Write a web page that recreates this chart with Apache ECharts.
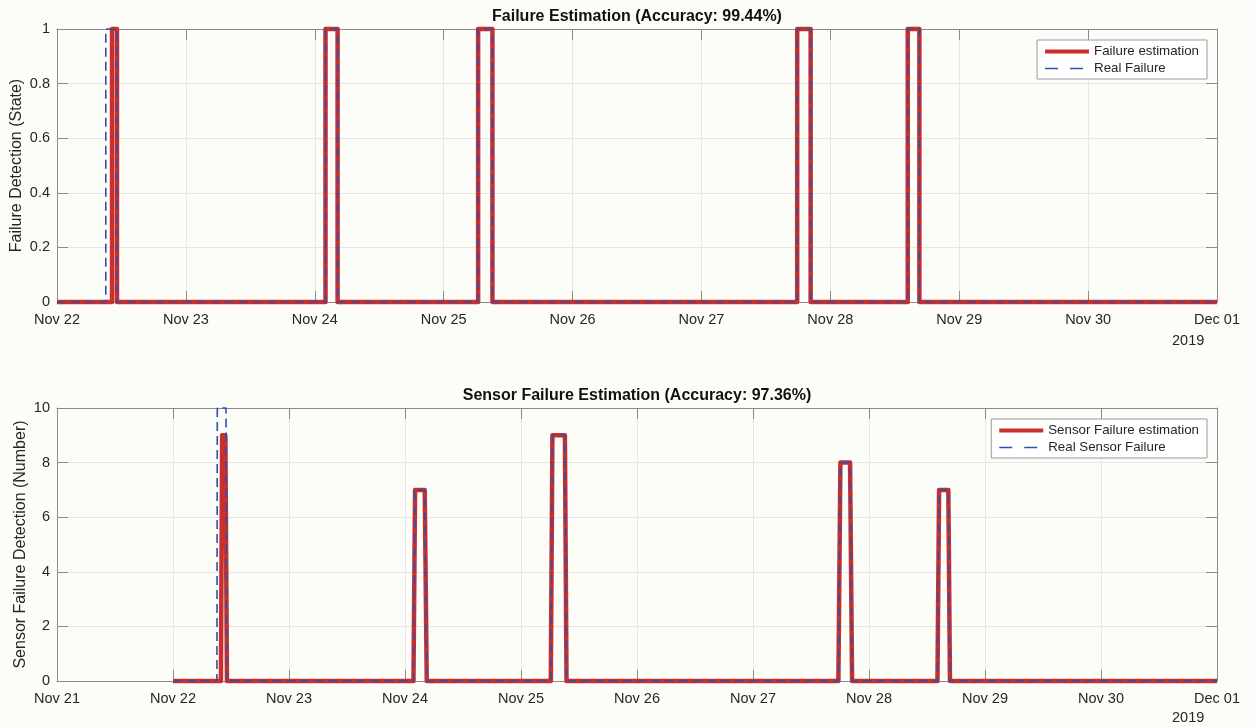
<!DOCTYPE html>
<html>
<head>
<meta charset="utf-8">
<title>Failure Estimation</title>
<script src="https://cdn.jsdelivr.net/npm/echarts@6/dist/echarts.min.js"></script>
<style>
  html, body { margin: 0; padding: 0; background: #fcfcf8; }
  #chart { width: 1256px; height: 727px; }
</style>
</head>
<body>
<div id="chart"></div>
<script>
// ---- data -------------------------------------------------------------
const monthNames = ['Jan','Feb','Mar','Apr','May','Jun','Jul','Aug','Sep','Oct','Nov','Dec'];
const yearLabel = '2019';

// Failure state windows (state = 1 between start and end), UTC time
const stateRange = ['2019-11-22 00:00', '2019-12-01 00:00'];
const stateEstimatedWindows = [
  ['2019-11-22 10:15', '2019-11-22 11:10'],
  ['2019-11-24 02:00', '2019-11-24 04:15'],
  ['2019-11-25 06:25', '2019-11-25 09:05'],
  ['2019-11-27 17:50', '2019-11-27 20:20'],
  ['2019-11-28 14:25', '2019-11-28 16:35']
];
const stateRealWindows = [
  ['2019-11-22 09:05', '2019-11-22 11:10'],
  ['2019-11-24 02:00', '2019-11-24 04:15'],
  ['2019-11-25 06:25', '2019-11-25 09:05'],
  ['2019-11-27 17:50', '2019-11-27 20:20'],
  ['2019-11-28 14:25', '2019-11-28 16:35']
];

// Number of failed sensors over time
const sensorRange = ['2019-11-21 00:00', '2019-12-01 00:00'];
const sensorEstimated = [
  ['2019-11-22 00:00', 0],
  ['2019-11-22 09:55', 0], ['2019-11-22 10:10', 9], ['2019-11-22 10:50', 9], ['2019-11-22 11:10', 0],
  ['2019-11-24 01:45', 0], ['2019-11-24 02:05', 7], ['2019-11-24 04:05', 7], ['2019-11-24 04:30', 0],
  ['2019-11-25 06:10', 0], ['2019-11-25 06:30', 9], ['2019-11-25 09:05', 9], ['2019-11-25 09:25', 0],
  ['2019-11-27 17:40', 0], ['2019-11-27 18:05', 8], ['2019-11-27 20:05', 8], ['2019-11-27 20:30', 0],
  ['2019-11-28 14:10', 0], ['2019-11-28 14:30', 7], ['2019-11-28 16:25', 7], ['2019-11-28 16:45', 0],
  ['2019-12-01 00:00', 0]
];
const sensorReal = [
  ['2019-11-22 00:00', 0],
  ['2019-11-22 09:05', 0], ['2019-11-22 09:10', 10], ['2019-11-22 10:58', 10], ['2019-11-22 11:05', 0],
  ['2019-11-24 01:45', 0], ['2019-11-24 02:05', 7], ['2019-11-24 04:05', 7], ['2019-11-24 04:30', 0],
  ['2019-11-25 06:10', 0], ['2019-11-25 06:30', 9], ['2019-11-25 09:05', 9], ['2019-11-25 09:25', 0],
  ['2019-11-27 17:40', 0], ['2019-11-27 18:05', 8], ['2019-11-27 20:05', 8], ['2019-11-27 20:30', 0],
  ['2019-11-28 14:10', 0], ['2019-11-28 14:30', 7], ['2019-11-28 16:25', 7], ['2019-11-28 16:45', 0],
  ['2019-12-01 00:00', 0]
];

// ---- helpers ------------------------------------------------------------
const DAY = 86400000;
const t = s => Date.parse(s.replace(' ', 'T') + ':00Z');
const dayLabel = v => {
  const d = new Date(v);
  return monthNames[d.getUTCMonth()] + ' ' + String(d.getUTCDate()).padStart(2, '0');
};
function stepPoints(range, windows) {
  const pts = [[t(range[0]), 0]];
  windows.forEach(([a, b]) => {
    pts.push([t(a), 0], [t(a), 1], [t(b), 1], [t(b), 0]);
  });
  pts.push([t(range[1]), 0]);
  return pts;
}
const toPoints = arr => arr.map(([s, v]) => [t(s), v]);

// ---- styling ------------------------------------------------------------
const FONT = '"Liberation Sans", Arial, Helvetica, sans-serif';
const AXIS_COLOR = '#8a8a8a';
const GRID_COLOR = '#e6e6e6';
const TEXT_COLOR = '#262626';
const RED = '#c9302c';
const BLUE = '#2f4fae';

function bottomX(gridIndex, range) {
  return {
    type: 'value', gridIndex, position: 'bottom',
    min: t(range[0]), max: t(range[1]), interval: DAY,
    axisLine: { show: true, onZero: false, lineStyle: { color: AXIS_COLOR, width: 1 } },
    axisTick: { show: true, inside: true, length: 11, lineStyle: { color: AXIS_COLOR } },
    axisLabel: { show: true, formatter: dayLabel, color: TEXT_COLOR, fontFamily: FONT, fontSize: 14.5, margin: 10 },
    splitLine: { show: true, lineStyle: { color: GRID_COLOR, width: 1 } }
  };
}
function topX(gridIndex, range) {
  return {
    type: 'value', gridIndex, position: 'top',
    min: t(range[0]), max: t(range[1]), interval: DAY,
    axisLine: { show: true, onZero: false, lineStyle: { color: AXIS_COLOR, width: 1 } },
    axisTick: { show: true, inside: true, length: 11, lineStyle: { color: AXIS_COLOR } },
    axisLabel: { show: false },
    splitLine: { show: false }
  };
}
function leftY(gridIndex, max, interval, name, nameGap) {
  return {
    type: 'value', gridIndex, position: 'left',
    min: 0, max, interval,
    name, nameLocation: 'middle', nameGap, nameMoveOverlap: false,
    nameTextStyle: { color: TEXT_COLOR, fontFamily: FONT, fontSize: 16 },
    axisLine: { show: true, onZero: false, lineStyle: { color: AXIS_COLOR, width: 1 } },
    axisTick: { show: true, inside: true, length: 11, lineStyle: { color: AXIS_COLOR } },
    axisLabel: { color: TEXT_COLOR, fontFamily: FONT, fontSize: 14.5, margin: 7 },
    splitLine: { show: true, lineStyle: { color: GRID_COLOR, width: 1 } }
  };
}
function rightY(gridIndex, max, interval) {
  return {
    type: 'value', gridIndex, position: 'right',
    min: 0, max, interval,
    axisLine: { show: true, onZero: false, lineStyle: { color: AXIS_COLOR, width: 1 } },
    axisTick: { show: true, inside: true, length: 11, lineStyle: { color: AXIS_COLOR } },
    axisLabel: { show: false },
    splitLine: { show: false }
  };
}
function estimateSeries(name, xi, yi, data) {
  return {
    name, type: 'line', xAxisIndex: xi, yAxisIndex: yi, data,
    symbol: 'none', clip: false, z: 3,
    lineStyle: { color: RED, width: 4.5, join: 'round' },
    itemStyle: { color: RED }
  };
}
function realSeries(name, xi, yi, data) {
  return {
    name, type: 'line', xAxisIndex: xi, yAxisIndex: yi, data,
    symbol: 'none', clip: false, z: 4,
    lineStyle: { color: BLUE, width: 1.6, type: [9, 5] },
    itemStyle: { color: BLUE }
  };
}
function legendBox(top, names) {
  return {
    data: [
      { name: names[0], lineStyle: { width: 4 } },
      { name: names[1], lineStyle: { width: 1.6, type: [13, 12] } }
    ],
    orient: 'vertical', right: 49, top,
    itemWidth: 44, itemHeight: 14, itemGap: 4,
    padding: [5, 8, 4, 6],
    itemStyle: { opacity: 0, borderWidth: 0 },
    backgroundColor: '#ffffff', borderColor: '#9a9a9a', borderWidth: 1, borderRadius: 0,
    textStyle: { color: TEXT_COLOR, fontFamily: FONT, fontSize: 13.3 },
    selectedMode: false
  };
}

const chart = echarts.init(document.getElementById('chart'), null, { renderer: 'canvas' });
chart.setOption({
  animation: false,
  backgroundColor: '#fcfcf8',
  textStyle: { fontFamily: FONT },
  title: [
    { text: 'Failure Estimation (Accuracy: 99.44%)', left: 637, textAlign: 'center', top: 9, padding: 0,
      textStyle: { fontFamily: FONT, fontSize: 16, fontWeight: 'bold', color: '#111' } },
    { text: 'Sensor Failure Estimation (Accuracy: 97.36%)', left: 637, textAlign: 'center', top: 388, padding: 0,
      textStyle: { fontFamily: FONT, fontSize: 16, fontWeight: 'bold', color: '#111' } }
  ],
  legend: [
    legendBox(40, ['Failure estimation', 'Real Failure']),
    legendBox(419, ['Sensor Failure estimation', 'Real Sensor Failure'])
  ],
  grid: [
    { left: 57, top: 29, width: 1160, height: 273, containLabel: false, outerBoundsMode: 'none' },
    { left: 57, top: 408, width: 1160, height: 273, containLabel: false, outerBoundsMode: 'none' }
  ],
  xAxis: [
    bottomX(0, stateRange), topX(0, stateRange),
    bottomX(1, sensorRange), topX(1, sensorRange)
  ],
  yAxis: [
    leftY(0, 1, 0.2, 'Failure Detection (State)', 32), rightY(0, 1, 0.2),
    leftY(1, 10, 2, 'Sensor Failure Detection (Number)', 28), rightY(1, 10, 2)
  ],
  graphic: [
    { type: 'text', left: 1172, top: 333, style: { text: yearLabel, fill: TEXT_COLOR, font: '14.5px ' + FONT } },
    { type: 'text', left: 1172, top: 710, style: { text: yearLabel, fill: TEXT_COLOR, font: '14.5px ' + FONT } }
  ],
  series: [
    estimateSeries('Failure estimation', 0, 0, stepPoints(stateRange, stateEstimatedWindows)),
    realSeries('Real Failure', 0, 0, stepPoints(stateRange, stateRealWindows)),
    estimateSeries('Sensor Failure estimation', 2, 2, toPoints(sensorEstimated)),
    realSeries('Real Sensor Failure', 2, 2, toPoints(sensorReal))
  ]
});
</script>
</body>
</html>
